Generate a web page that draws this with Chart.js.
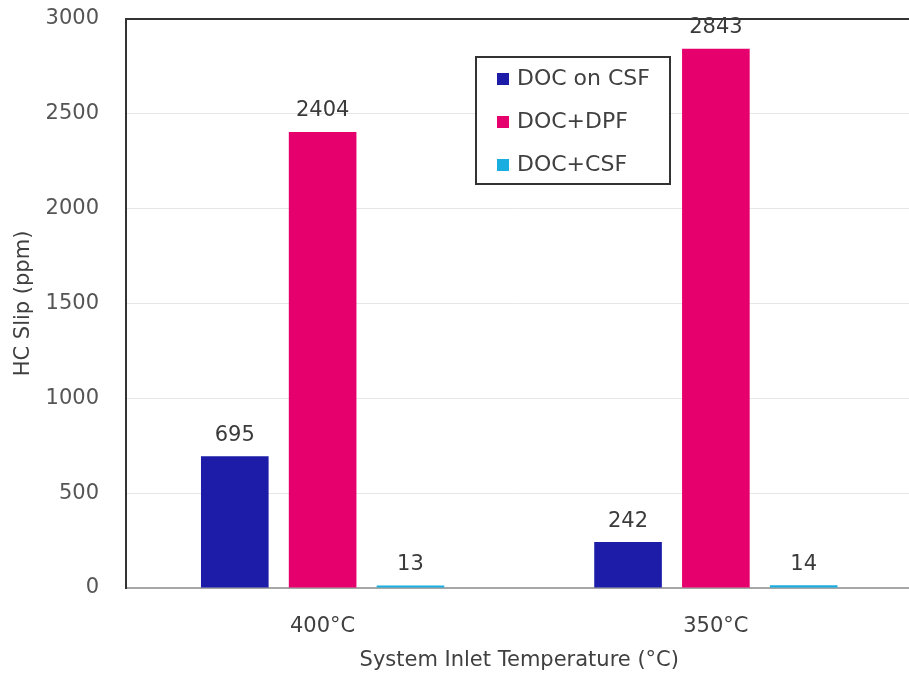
<!DOCTYPE html>
<html>
<head>
<meta charset="utf-8">
<script src="https://cdn.jsdelivr.net/npm/chart.js@4/dist/chart.umd.min.js"></script>
<style>
  html, body { margin: 0; padding: 0; background: #ffffff; overflow: hidden; }
  #wrap { position: relative; width: 930px; height: 677px; }
</style>
</head>
<body>
<div id="wrap"><canvas id="chart"></canvas></div>
<script>
// Categories, series and axis ticks
const categories = ['400°C', '350°C'];
const seriesNames = ['DOC on CSF', 'DOC+DPF', 'DOC+CSF'];
const docOnCsf = [695, 242];
const docDpf = [2404, 2843];
const docCsf = [13, 14];
const yTicks = [0, 500, 1000, 1500, 2000, 2500, 3000];

const FONT = 'DejaVu Sans';
const colors = ['#1c1ca8', '#e6006e', '#1aaee0'];

// Value labels above every bar
const valueLabels = {
  id: 'valueLabels',
  afterDatasetsDraw(chart) {
    const ctx = chart.ctx;
    ctx.save();
    ctx.font = '21px "' + FONT + '"';
    ctx.fillStyle = '#3a3a3a';
    ctx.textAlign = 'center';
    ctx.textBaseline = 'middle';
    chart.data.datasets.forEach((ds, i) => {
      chart.getDatasetMeta(i).data.forEach((bar, j) => {
        ctx.fillText(String(ds.data[j]), bar.x, bar.y - 21);
      });
    });
    ctx.restore();
  }
};

// Boxed legend placed inside the plot area
const boxedLegend = {
  id: 'boxedLegend',
  afterDraw(chart) {
    const ctx = chart.ctx;
    const x0 = 476, y0 = 57, w = 194, h = 127;
    ctx.save();
    ctx.fillStyle = '#ffffff';
    ctx.fillRect(x0, y0, w, h);
    ctx.strokeStyle = '#333333';
    ctx.lineWidth = 2;
    ctx.strokeRect(x0, y0, w, h);
    ctx.font = '22px "' + FONT + '"';
    ctx.textAlign = 'left';
    ctx.textBaseline = 'middle';
    chart.data.datasets.forEach((ds, i) => {
      const cy = 79 + i * 43;
      ctx.fillStyle = ds.backgroundColor;
      ctx.fillRect(497, cy - 6, 12, 12);
      ctx.fillStyle = '#404040';
      ctx.fillText(ds.label, 517, cy);
    });
    ctx.restore();
  }
};

const datasets = [docOnCsf, docDpf, docCsf].map((vals, i) => ({
  label: seriesNames[i],
  data: vals,
  backgroundColor: colors[i],
  borderWidth: 0,
  categoryPercentage: 0.67,
  barPercentage: 0.77
}));

new Chart(document.getElementById('chart'), {
  type: 'bar',
  data: { labels: categories, datasets },
  options: {
    responsive: true,
    maintainAspectRatio: false,
    animation: false,
    layout: { padding: { top: 19, right: 17.5, bottom: 0, left: 0 } },
    plugins: {
      legend: { display: false },
      tooltip: { enabled: false }
    },
    scales: {
      x: {
        grid: { display: false },
        border: { display: true, color: '#a6a6a6', width: 2 },
        ticks: { font: { family: FONT, size: 21 }, color: '#404040', padding: 18 },
        title: {
          display: true,
          text: 'System Inlet Temperature (°C)',
          font: { family: FONT, size: 21 },
          color: '#404040',
          padding: { top: 0, bottom: 4 }
        },
        afterFit(scale) { scale.height = 89; }
      },
      y: {
        min: 0,
        max: 3000,
        afterBuildTicks(scale) { scale.ticks = yTicks.map(v => ({ value: v })); },
        grid: {
          drawTicks: true,
          tickLength: 26,
          tickColor: 'rgba(0,0,0,0)',
          color: ctx => (ctx.tick && ctx.tick.value === 3000) ? '#333333' : '#e6e6e6',
          lineWidth: ctx => (ctx.tick && ctx.tick.value === 3000) ? 2 : 1
        },
        border: { display: true, color: '#333333', width: 2 },
        ticks: {
          font: { family: FONT, size: 21 },
          color: '#555555',
          padding: 1,
          callback: v => String(v)
        },
        title: {
          display: true,
          text: 'HC Slip (ppm)',
          font: { family: FONT, size: 21 },
          color: '#404040',
          padding: { top: 11, bottom: 0 }
        },
        afterFit(scale) { scale.width = 126; }
      }
    }
  },
  plugins: [valueLabels, boxedLegend]
});
</script>
</body>
</html>
